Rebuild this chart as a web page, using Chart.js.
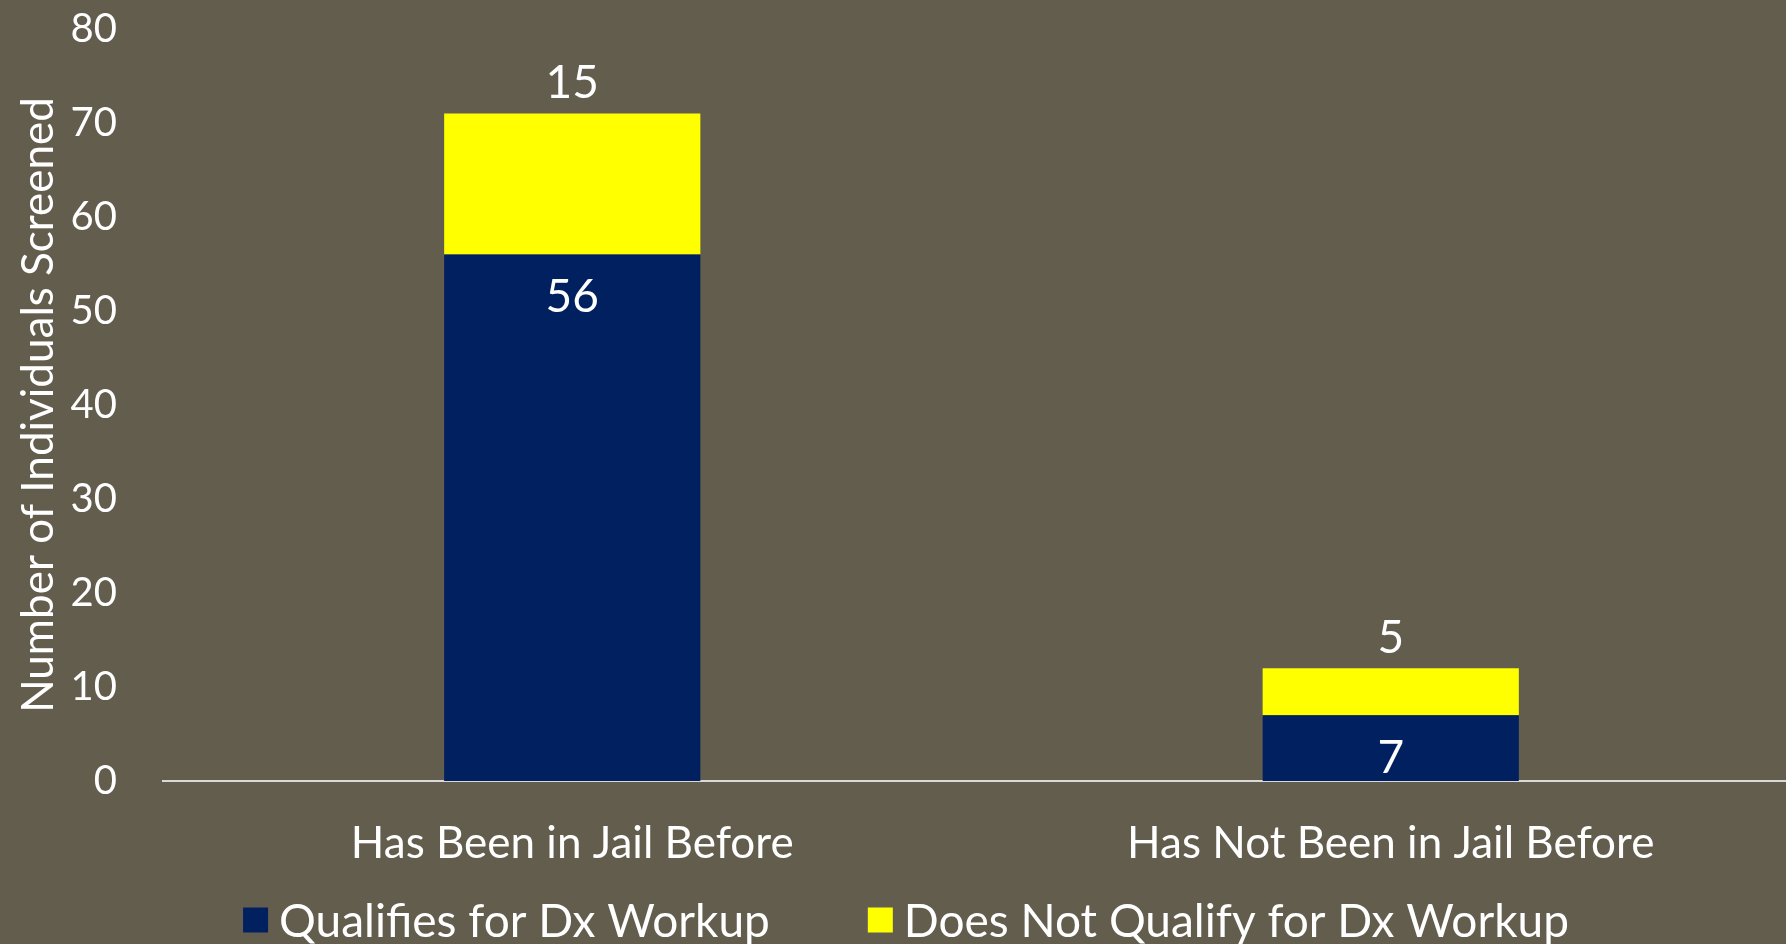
<!DOCTYPE html>
<html>
<head>
<meta charset="utf-8">
<script src="https://cdn.jsdelivr.net/npm/chart.js@4.4.1/dist/chart.umd.min.js"></script>
<style>
  html, body { margin: 0; padding: 0; background: #635D4E; overflow: hidden; }
  #wrap { position: absolute; left: 0; top: 0; width: 1800px; height: 944px; }
</style>
</head>
<body>
<div id="wrap"><canvas id="myChart"></canvas></div>
<script>
const categories = ['Has Been in Jail Before', 'Has Not Been in Jail Before'];
const seriesNames = ['Qualifies for Dx Workup', 'Does Not Qualify for Dx Workup'];
const qualifies = [56, 7];
const notQualify = [15, 5];
const yTicks = [0, 10, 20, 30, 40, 50, 60, 70, 80];

const FONT = 'Lato';
const navy = '#002060';
const yellow = '#FFFF00';

// value labels: navy ones inside near the top, yellow ones above the bar
const barLabels = {
  id: 'barLabels',
  afterDatasetsDraw(chart) {
    const ctx = chart.ctx;
    ctx.save();
    ctx.fillStyle = '#FFFFFF';
    ctx.font = '46px ' + FONT;
    ctx.textAlign = 'center';
    ctx.textBaseline = 'middle';
    chart.data.datasets.forEach((ds, i) => {
      chart.getDatasetMeta(i).data.forEach((bar, j) => {
        const y = i === 0 ? bar.y + 43 : bar.y - 30;
        ctx.fillText(String(ds.data[j]), bar.x, y);
      });
    });
    ctx.restore();
  }
};

// legend drawn by hand so the spacing matches
const bottomLegend = {
  id: 'bottomLegend',
  afterDraw(chart) {
    const ctx = chart.ctx;
    ctx.save();
    ctx.font = '46px ' + FONT;
    ctx.textBaseline = 'middle';
    const box = 25, gap = 11, spacing = 98;
    const items = chart.data.datasets.map(ds => ({
      text: ds.label, color: ds.backgroundColor, w: ctx.measureText(ds.label).width
    }));
    let total = items.reduce((s, it) => s + box + gap + it.w, 0) + spacing * (items.length - 1);
    let x = chart.width / 2 + 6 - total / 2;
    const cy = 920;
    items.forEach(it => {
      ctx.fillStyle = it.color;
      ctx.fillRect(x, cy - box / 2, box, box);
      ctx.fillStyle = '#FFFFFF';
      ctx.fillText(it.text, x + box + gap, cy + 2);
      x += box + gap + it.w + spacing;
    });
    ctx.restore();
  }
};

const data = {
  labels: categories,
  datasets: [{
    label: seriesNames[0],
    backgroundColor: navy,
    data: qualifies
  }, {
    label: seriesNames[1],
    backgroundColor: yellow,
    data: notQualify
  }]
};

const config = {
  type: 'bar',
  data: data,
  options: {
    responsive: true,
    maintainAspectRatio: false,
    animation: false,
    layout: { padding: { top: 29, left: 0, right: 0, bottom: 63 } },
    datasets: { bar: { categoryPercentage: 1.0, barPercentage: 0.313 } },
    plugins: {
      legend: { display: false },
      tooltip: { enabled: false }
    },
    scales: {
      x: {
        stacked: true,
        grid: { display: false, drawTicks: false },
        border: { display: true, color: '#D9D9D9', width: 2 },
        ticks: { color: '#FFFFFF', font: { family: FONT, size: 44 }, padding: 36 },
        afterFit: s => { s.height = 100; s.paddingLeft = 0; s.paddingRight = 0; }
      },
      y: {
        stacked: true,
        min: 0,
        max: 80,
        grid: { display: false, drawTicks: false },
        border: { display: false },
        afterBuildTicks: s => { s.ticks = yTicks.map(v => ({ value: v })); },
        ticks: { color: '#FFFFFF', font: { family: FONT, size: 40 }, padding: 46 },
        title: {
          display: true,
          text: 'Number of Individuals Screened',
          color: '#FFFFFF',
          font: { family: FONT, size: 44 },
          padding: { top: 12, bottom: 0 }
        },
        afterFit: s => { s.width = 163; s.paddingTop = 0; s.paddingBottom = 0; }
      }
    }
  },
  plugins: [barLabels, bottomLegend]
};

const myChart = new Chart(document.getElementById('myChart'), config);
</script>
</body>
</html>
